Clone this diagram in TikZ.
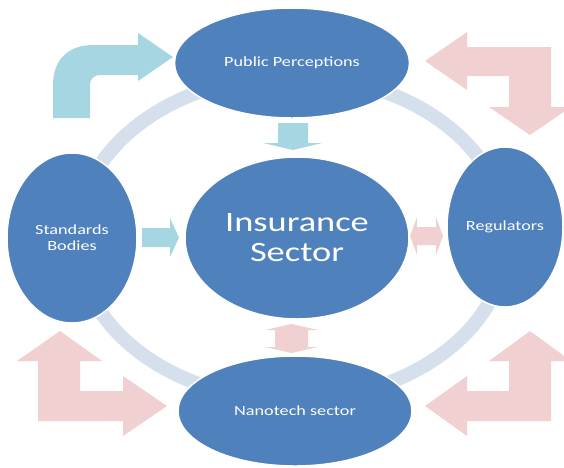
\documentclass[tikz,border=0pt]{standalone}
\usepackage{fontspec}
\setmainfont{Carlito}
\newfontfamily\wide[FakeStretch=1.3]{Carlito}
\usetikzlibrary{shapes.geometric}
\definecolor{bubblue}{RGB}{79,129,189}
\definecolor{ringc}{RGB}{214,223,236}
\definecolor{lblue}{RGB}{166,214,226}
\definecolor{lpink}{RGB}{240,208,208}
\tikzset{
  bub/.style={ellipse, fill=bubblue, draw=white, line width=1.5pt, inner sep=0pt,
    text=white, align=center, font=\wide\fontsize{14}{16}\selectfont},
  bluearrow/.style={fill=lblue, draw=none},
  pinkarrow/.style={fill=lpink, draw=none},
  ringstyle/.style={draw=ringc, line width=14pt}
}
\begin{document}
\begin{tikzpicture}[x=1pt,y=-1pt]
\useasboundingbox (0,0) rectangle (564,467);
\clip (0,0) rectangle (564,467);
% ring
\draw[ringstyle] (292,238) ellipse [x radius=215pt, y radius=162pt];
% blue bent arrow (top-left)
\fill[bluearrow] (53,118) -- (53,85) .. controls (53,58) and (70,45) .. (93,45)
  -- (138,45) -- (138,33) -- (173,57) -- (138,81) -- (138,75) -- (100,75)
  .. controls (94,75) and (90,79) .. (90,85) -- (90,118) -- cycle;
% pink bent arrow (top-right)
\fill[pinkarrow] (425,61) -- (467,32) -- (467,47) -- (551,47) -- (551,107) -- (571,107)
  -- (530,135) -- (489,107) -- (509,107) -- (509,76) -- (467,76) -- (467,90) -- cycle;
% pink bent arrow (bottom-right)
\fill[pinkarrow] (530,331) -- (571,361) -- (551,361) -- (551,421) -- (467,421) -- (467,436)
  -- (425,406) -- (467,376) -- (467,391) -- (509,391) -- (509,361) -- (489,361) -- cycle;
% pink bent arrow (bottom-left)
\fill[pinkarrow] (60,331) -- (102,361) -- (80,361) -- (80,391) -- (123,391) -- (123,376)
  -- (167,406) -- (123,436) -- (123,421) -- (38,421) -- (38,361) -- (17,361) -- cycle;
% ellipses
\node[bub, minimum width=235pt, minimum height=110pt] (pub) at (292,63) {Public Perceptions};
\node[bub, minimum width=224pt, minimum height=162pt, font=\wide\fontsize{28}{30}\selectfont] (ins) at (297,238) {Insurance\\Sector};
\node[bub, minimum width=130pt, minimum height=170pt] (std) at (72,238) {Standards\\Bodies};
\node[bub, minimum width=116pt, minimum height=160pt] (reg) at (505,227) {Regulators};
\node[bub, minimum width=234pt, minimum height=110pt] (nano) at (295,411) {Nanotech sector};
% small arrows between ellipses
\fill[bluearrow] (278,123) -- (308,123) -- (308,143) -- (322,143) -- (293,150) -- (263,143) -- (278,143) -- cycle;
\fill[bluearrow] (142,228) -- (170,228) -- (170,218) -- (179,237.5) -- (170,257) -- (170,247) -- (142,247) -- cycle;
\fill[pinkarrow] (410,236) -- (417,217) -- (417,227) -- (436,227) -- (436,217) -- (443,236)
  -- (436,255) -- (436,245) -- (417,245) -- (417,255) -- cycle;
\fill[pinkarrow] (291.5,324) -- (318,330) -- (308,330) -- (308,347) -- (318,347) -- (291.5,353)
  -- (265,347) -- (275,347) -- (275,330) -- (265,330) -- cycle;
\end{tikzpicture}
\end{document}
